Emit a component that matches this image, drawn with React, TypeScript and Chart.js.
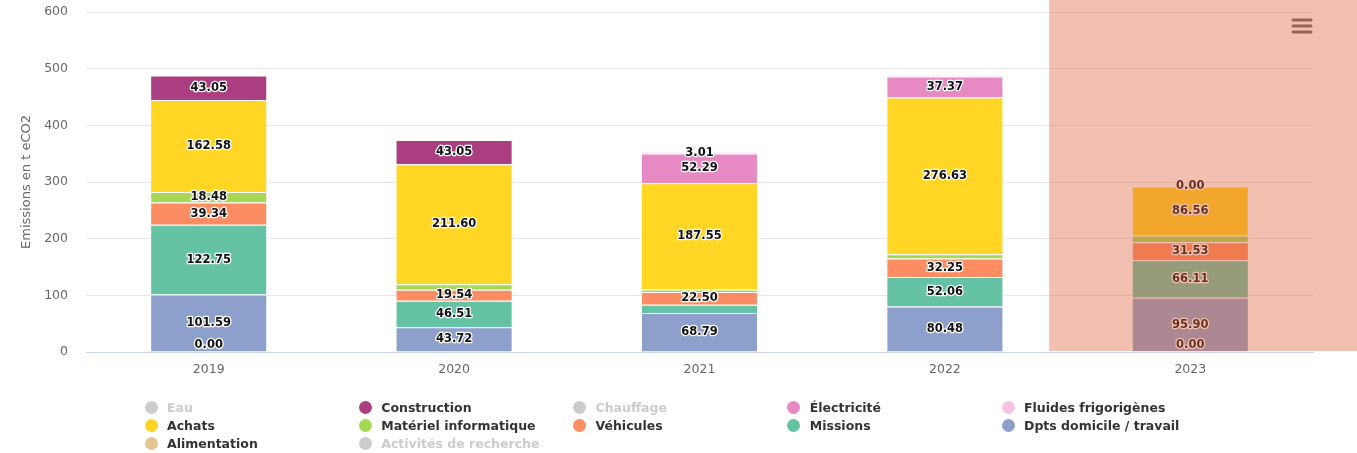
import React, { useEffect, useRef } from "react";
import { Chart, registerables } from "chart.js";

Chart.register(...registerables);

// ---- Data ----
const years = ["2019", "2020", "2021", "2022", "2023"];
const yTicks = [0, 100, 200, 300, 400, 500, 600];

const eau: (number | null)[] = [null, null, null, null, null];
const construction: (number | null)[] = [43.05, 43.05, null, null, null];
const chauffage: (number | null)[] = [null, null, null, null, null];
const electricite: (number | null)[] = [null, null, 52.29, 37.37, 0];
const fluides: (number | null)[] = [null, null, 3.01, 2.5, null];
const achats: (number | null)[] = [162.58, 211.6, 187.55, 276.63, 86.56];
const materiel: (number | null)[] = [18.48, 9.9, 4.5, 7.5, 12];
const vehicules: (number | null)[] = [39.34, 19.54, 22.5, 32.25, 31.53];
const missions: (number | null)[] = [122.75, 46.51, 14.5, 52.06, 66.11];
const dpts: (number | null)[] = [101.59, 43.72, 68.79, 80.48, 95.9];
const alimentation: (number | null)[] = [0, null, null, null, 0];
const activites: (number | null)[] = [null, null, null, null, null];

type Serie = { name: string; data: (number | null)[]; color: string; hidden: boolean };

const sEau: Serie = { name: "Eau", data: eau, color: "#cccccc", hidden: true };
const sConstruction: Serie = { name: "Construction", data: construction, color: "#ab3e80", hidden: false };
const sChauffage: Serie = { name: "Chauffage", data: chauffage, color: "#cccccc", hidden: true };
const sElectricite: Serie = { name: "Électricité", data: electricite, color: "#e78ac3", hidden: false };
const sFluides: Serie = { name: "Fluides frigorigènes", data: fluides, color: "#fbc3e2", hidden: false };
const sAchats: Serie = { name: "Achats", data: achats, color: "#ffd624", hidden: false };
const sMateriel: Serie = { name: "Matériel informatique", data: materiel, color: "#a6d854", hidden: false };
const sVehicules: Serie = { name: "Véhicules", data: vehicules, color: "#fc8d62", hidden: false };
const sMissions: Serie = { name: "Missions", data: missions, color: "#66c2a5", hidden: false };
const sDpts: Serie = { name: "Dpts domicile / travail", data: dpts, color: "#8da0cb", hidden: false };
const sAlimentation: Serie = { name: "Alimentation", data: alimentation, color: "#e5c494", hidden: false };
const sActivites: Serie = { name: "Activités de recherche", data: activites, color: "#cccccc", hidden: true };

// legend order (5 columns)
const legendOrder: Serie[] = [
  sEau, sConstruction, sChauffage, sElectricite, sFluides,
  sAchats, sMateriel, sVehicules, sMissions, sDpts,
  sAlimentation, sActivites,
];
// stacking order, bottom to top
const stackOrder: Serie[] = [
  sActivites, sAlimentation, sDpts, sMissions, sVehicules, sMateriel,
  sAchats, sElectricite, sFluides, sChauffage, sConstruction, sEau,
];

const FONT = "'DejaVu Sans', sans-serif";

const labelPlugin = {
  id: "stackLabels",
  afterDatasetsDraw(chart: any) {
    const ctx = chart.ctx;
    const area = chart.chartArea;
    const items: { x: number; cy: number; v: number; text: string }[] = [];
    chart.data.datasets.forEach((ds: any, di: number) => {
      if (!chart.isDatasetVisible(di)) return;
      const meta = chart.getDatasetMeta(di);
      meta.data.forEach((el: any, i: number) => {
        const v = ds.data[i];
        if (v === null || v === undefined) return;
        const p = el.getProps(["x", "y", "base"], true);
        let cy = (p.y + p.base) / 2;
        cy = Math.min(cy, area.bottom - 7);
        items.push({ x: p.x, cy, v, text: Number(v).toFixed(2) });
      });
    });
    items.sort((a, b) => b.v - a.v);
    const placed: typeof items = [];
    for (const it of items) {
      if (placed.some((p) => Math.abs(p.x - it.x) < 1 && Math.abs(p.cy - it.cy) < 13)) continue;
      placed.push(it);
    }
    ctx.save();
    ctx.font = `bold 11.5px ${FONT}`;
    ctx.textAlign = "center";
    ctx.textBaseline = "middle";
    ctx.lineJoin = "round";
    ctx.strokeStyle = "#ffffff";
    ctx.lineWidth = 2.5;
    ctx.fillStyle = "#111111";
    for (const p of placed) {
      ctx.strokeText(p.text, p.x, p.cy);
      ctx.fillText(p.text, p.x, p.cy);
    }
    ctx.restore();
  },
};

const overlayPlugin = {
  id: "overlay",
  afterDraw(chart: any) {
    const ctx = chart.ctx;
    const xs = chart.scales.x;
    const area = chart.chartArea;
    ctx.save();
    // menu icon
    ctx.strokeStyle = "#666666";
    ctx.lineWidth = 3;
    ctx.lineCap = "round";
    const ix0 = chart.width - 64;
    const ix1 = chart.width - 46;
    [20, 26, 32].forEach((yy) => {
      ctx.beginPath();
      ctx.moveTo(ix0, yy);
      ctx.lineTo(ix1, yy);
      ctx.stroke();
    });
    // highlight overlay over the last category
    const left = xs.getPixelForValue(years.length - 1.575);
    ctx.fillStyle = "rgba(222, 97, 57, 0.4)";
    ctx.fillRect(left, 0, chart.width - left, area.bottom - 1);
    ctx.restore();
  },
};

export default function App() {
  const ref = useRef<HTMLCanvasElement>(null);

  useEffect(() => {
    const datasets = stackOrder.map((s) => ({
      label: s.name,
      data: s.data,
      backgroundColor: s.color,
      borderColor: "#ffffff",
      borderWidth: 1,
      hidden: s.hidden,
      categoryPercentage: 0.477,
      barPercentage: 1,
    }));
    const chart = new Chart(ref.current as HTMLCanvasElement, {
      type: "bar",
      data: { labels: years, datasets: datasets as any },
      options: {
        responsive: false,
        animation: false,
        devicePixelRatio: 1,
        layout: { padding: { left: 0, right: 44, top: 12, bottom: 0 } },
        plugins: { legend: { display: false }, tooltip: { enabled: false } },
        scales: {
          x: {
            stacked: true,
            grid: { display: false, drawTicks: false },
            border: { display: true, color: "#ccd6eb", width: 1 },
            ticks: { color: "#666666", font: { family: FONT, size: 12.5 }, padding: 10 },
            afterFit: (s: any) => {
              s.height = 101;
              s.paddingLeft = 0;
              s.paddingRight = 0;
            },
          },
          y: {
            stacked: true,
            min: 0,
            max: 600,
            grid: { color: "#e6e6e6", drawTicks: false },
            border: { display: false },
            ticks: { color: "#666666", font: { family: FONT, size: 12.5 }, padding: 18 },
            afterBuildTicks: (s: any) => {
              s.ticks = yTicks.map((v) => ({ value: v }));
            },
            title: {
              display: true,
              text: "Emissions en t eCO2",
              color: "#666666",
              font: { family: FONT, size: 13 },
              padding: { top: 19, bottom: 0 },
            },
            afterFit: (s: any) => {
              s.width = 86;
              s.paddingTop = 0;
              s.paddingBottom = 0;
            },
          },
        },
      } as any,
      plugins: [labelPlugin, overlayPlugin],
    });
    return () => chart.destroy();
  }, []);

  return (
    <div
      style={{
        position: "fixed",
        left: 0,
        top: 0,
        width: 1357,
        height: 453,
        background: "#ffffff",
        overflow: "hidden",
      }}
    >
      <canvas
        ref={ref}
        width={1357}
        height={453}
        style={{ position: "absolute", left: 0, top: 0, width: 1357, height: 453 }}
      />
      {legendOrder.map((s, i) => {
        const col = i % 5;
        const row = Math.floor(i / 5);
        const cx = 151 + col * 214.25;
        const cy = 407 + row * 18;
        return (
          <div
            key={s.name}
            style={{
              position: "absolute",
              left: cx - 6.5,
              top: cy - 9,
              height: 18,
              display: "flex",
              alignItems: "center",
              whiteSpace: "nowrap",
              fontFamily: FONT,
              fontWeight: "bold",
              fontSize: 12.5,
              color: s.hidden ? "#cccccc" : "#333333",
            }}
          >
            <span
              style={{
                display: "inline-block",
                width: 13,
                height: 13,
                borderRadius: "50%",
                background: s.hidden ? "#cccccc" : s.color,
                marginRight: 9.5,
              }}
            />
            <span>{s.name}</span>
          </div>
        );
      })}
    </div>
  );
}
